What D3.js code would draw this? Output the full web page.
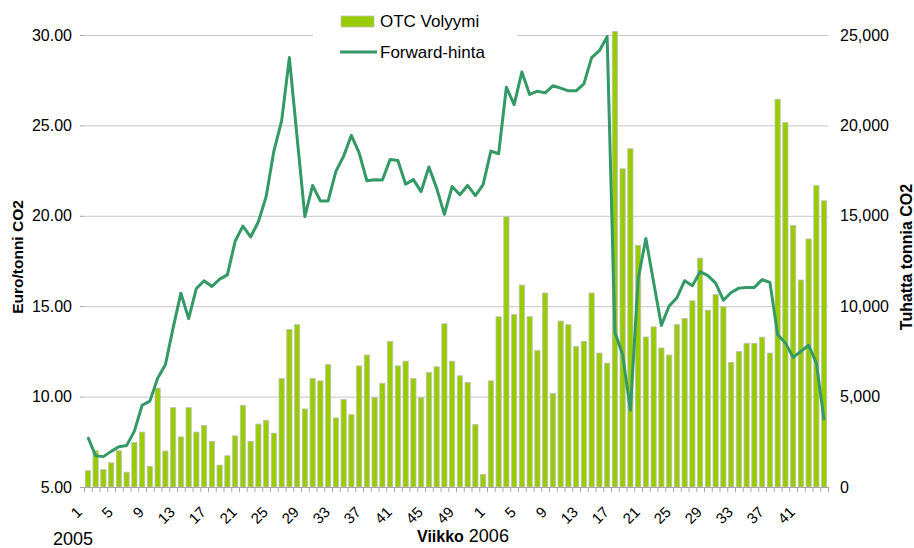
<!DOCTYPE html>
<html>
<head>
<meta charset="utf-8">
<script src="https://cdn.jsdelivr.net/npm/d3@7"></script>
<style>
  body { margin: 0; background: #fff; }
  svg { font-family: "Liberation Sans", Arial, sans-serif; }
</style>
</head>
<body>
<div id="chart"></div>
<script>
// weeks: 2005 weeks 1..52, then 2006 weeks 1..44
const weeks2005 = d3.range(1, 53);
const weeks2006 = d3.range(1, 45);
const years = ["2005", "2006"];

// OTC Volyymi (tuhatta tonnia CO2), one value per week
const volume = [
  900, 2000, 970, 1340, 2010, 820, 2460, 3040, 1150, 5470,
  1990, 4390, 2770, 4390, 3040, 3410, 2530, 1210, 1730, 2830,
  4520, 2530, 3480, 3690, 2980, 6000, 8710, 8980, 4320, 6000,
  5870, 6780, 3820, 4840, 4000, 6700, 7300, 4950, 5740, 8060,
  6700, 6960, 6000, 4950, 6330, 6650, 9030, 6960, 6150, 5790,
  3460, 690, 5870, 9420, 14950, 9550, 11170, 9420, 7560, 10730,
  5180, 9180, 8980, 7780, 8060, 10730, 7410, 6850, 25200, 17600,
  18710, 13370, 8300, 8860, 7690, 7300, 8980, 9330, 10300, 12660,
  9780, 10650, 9980, 6890, 7500, 7950, 7950, 8290, 7410, 21450,
  20170, 14470, 11450, 13720, 16670, 15830
];

// Forward-hinta (euro/tonni CO2)
const price = [
  7.76, 6.73, 6.68, 6.97, 7.23, 7.29, 8.09, 9.52, 9.75, 11.01,
  11.76, 13.80, 15.72, 14.31, 15.98, 16.41, 16.09, 16.50, 16.73, 18.59,
  19.43, 18.83, 19.67, 21.06, 23.58, 25.25, 28.75, 24.32, 19.95, 21.68,
  20.82, 20.82, 22.46, 23.30, 24.45, 23.48, 21.94, 22.00, 21.98, 23.11,
  23.06, 21.75, 22.00, 21.34, 22.70, 21.53, 20.08, 21.62, 21.16, 21.68,
  21.12, 21.72, 23.58, 23.43, 27.11, 26.15, 27.95, 26.71, 26.89, 26.80,
  27.19, 27.06, 26.91, 26.91, 27.30, 28.75, 29.13, 29.91, 13.56, 12.32,
  9.24, 16.50, 18.74, 16.32, 13.94, 15.01, 15.46, 16.41, 16.13, 16.91,
  16.69, 16.28, 15.33, 15.76, 16.00, 16.04, 16.04, 16.47, 16.32, 13.43,
  12.97, 12.17, 12.50, 12.84, 11.85, 8.69
];

const leftTicks = [5, 10, 15, 20, 25, 30];
const rightTicks = [0, 5000, 10000, 15000, 20000, 25000];

const width = 914, height = 548;
const plot = { left: 84, right: 828, top: 35, bottom: 487 };

const weeks = weeks2005.concat(weeks2006);
const data = weeks.map((w, i) => ({ i: i, week: w, vol: volume[i], price: price[i] }));

const svg = d3.select("#chart").append("svg")
  .attr("width", width)
  .attr("height", height);

const x = d3.scaleBand()
  .domain(data.map(d => d.i))
  .range([plot.left, plot.right])
  .paddingInner(0.32)
  .paddingOuter(0.16);

// category boundaries for the tick marks
const xb = d3.scaleLinear().domain([0, data.length]).range([plot.left, plot.right]);

const yL = d3.scaleLinear().domain([5, 30]).range([plot.bottom, plot.top]);
const yR = d3.scaleLinear().domain([0, 25000]).range([plot.bottom, plot.top]);

// gridlines
svg.append("g")
  .selectAll("line")
  .data(leftTicks.slice(1))
  .enter()
  .append("line")
  .attr("x1", plot.left)
  .attr("x2", plot.right)
  .attr("y1", d => yL(d) + 0.5)
  .attr("y2", d => yL(d) + 0.5)
  .attr("stroke", "#c6c6c6")
  .attr("stroke-width", 1);

// left axis
const gl = svg.append("g")
  .attr("transform", "translate(" + plot.left + ",0)")
  .call(d3.axisLeft(yL).tickValues(leftTicks).tickFormat(d3.format(".2f")).tickSize(4).tickPadding(8));
gl.select(".domain").remove();
gl.selectAll(".tick line").attr("stroke", "#a6a6a6");
gl.selectAll("text").attr("font-size", 16).attr("fill", "#000");

// right axis
const gr = svg.append("g")
  .attr("transform", "translate(" + plot.right + ",0)")
  .call(d3.axisRight(yR).tickValues(rightTicks).tickFormat(d3.format(",")).tickSize(0).tickPadding(12));
gr.select(".domain").remove();
gr.selectAll("text").attr("font-size", 16).attr("fill", "#000");

// bars
svg.append("g")
  .selectAll("rect")
  .data(data)
  .enter()
  .append("rect")
  .attr("x", d => x(d.i))
  .attr("y", d => yR(d.vol))
  .attr("width", x.bandwidth())
  .attr("height", d => plot.bottom - yR(d.vol))
  .attr("fill", "#99cc00")
  .attr("stroke", "#c0c0c0")
  .attr("stroke-width", 0.8);

// bottom axis: boundary ticks
const gb = svg.append("g")
  .attr("transform", "translate(0," + plot.bottom + ")")
  .call(d3.axisBottom(xb).tickValues(d3.range(0, data.length + 1)).tickFormat("").tickSize(5).tickSizeOuter(5));
gb.select(".domain").attr("stroke", "#a6a6a6");
gb.selectAll(".tick line").attr("stroke", "#a6a6a6");

// week labels every 4th category
svg.append("g")
  .selectAll("text")
  .data(data.filter(d => d.i % 4 === 0))
  .enter()
  .append("text")
  .attr("transform", d => "translate(" + (x(d.i) + x.bandwidth() / 2 - 5) + ",513) rotate(-45)")
  .attr("text-anchor", "end")
  .attr("font-size", 15)
  .text(d => d.week);

// price line
const line = d3.line()
  .x(d => x(d.i) + x.bandwidth() / 2)
  .y(d => yL(d.price));

svg.append("path")
  .datum(data)
  .attr("d", line)
  .attr("fill", "none")
  .attr("stroke", "#339966")
  .attr("stroke-width", 3)
  .attr("stroke-linejoin", "round");

// year labels / axis title
svg.append("text")
  .attr("x", 53).attr("y", 545)
  .attr("font-size", 18)
  .text(years[0]);

const xt = svg.append("text")
  .attr("x", 417).attr("y", 542)
  .attr("font-size", 18);
xt.append("tspan").attr("font-weight", "bold").attr("font-size", 16).text("Viikko");
xt.append("tspan").text(" " + years[1]);

// axis titles
svg.append("text")
  .attr("transform", "translate(23,257) rotate(-90)")
  .attr("text-anchor", "middle")
  .attr("font-weight", "bold")
  .attr("font-size", 15.5)
  .text("Euro/tonni CO2");

svg.append("text")
  .attr("transform", "translate(912,257) rotate(-90)")
  .attr("text-anchor", "middle")
  .attr("font-weight", "bold")
  .attr("font-size", 16)
  .text("Tuhatta tonnia CO2");

// legend
const lg = svg.append("g");
lg.append("rect")
  .attr("x", 313).attr("y", 0).attr("width", 204).attr("height", 68)
  .attr("fill", "#fff");
lg.append("rect")
  .attr("x", 341).attr("y", 16).attr("width", 33).attr("height", 11)
  .attr("fill", "#99cc00").attr("stroke", "#c0c0c0").attr("stroke-width", 0.8);
lg.append("text")
  .attr("x", 380).attr("y", 27)
  .attr("font-size", 17)
  .text("OTC Volyymi");
lg.append("line")
  .attr("x1", 340).attr("x2", 377).attr("y1", 52).attr("y2", 52)
  .attr("stroke", "#339966").attr("stroke-width", 3);
lg.append("text")
  .attr("x", 380).attr("y", 58)
  .attr("font-size", 17)
  .text("Forward-hinta");
</script>
</body>
</html>
